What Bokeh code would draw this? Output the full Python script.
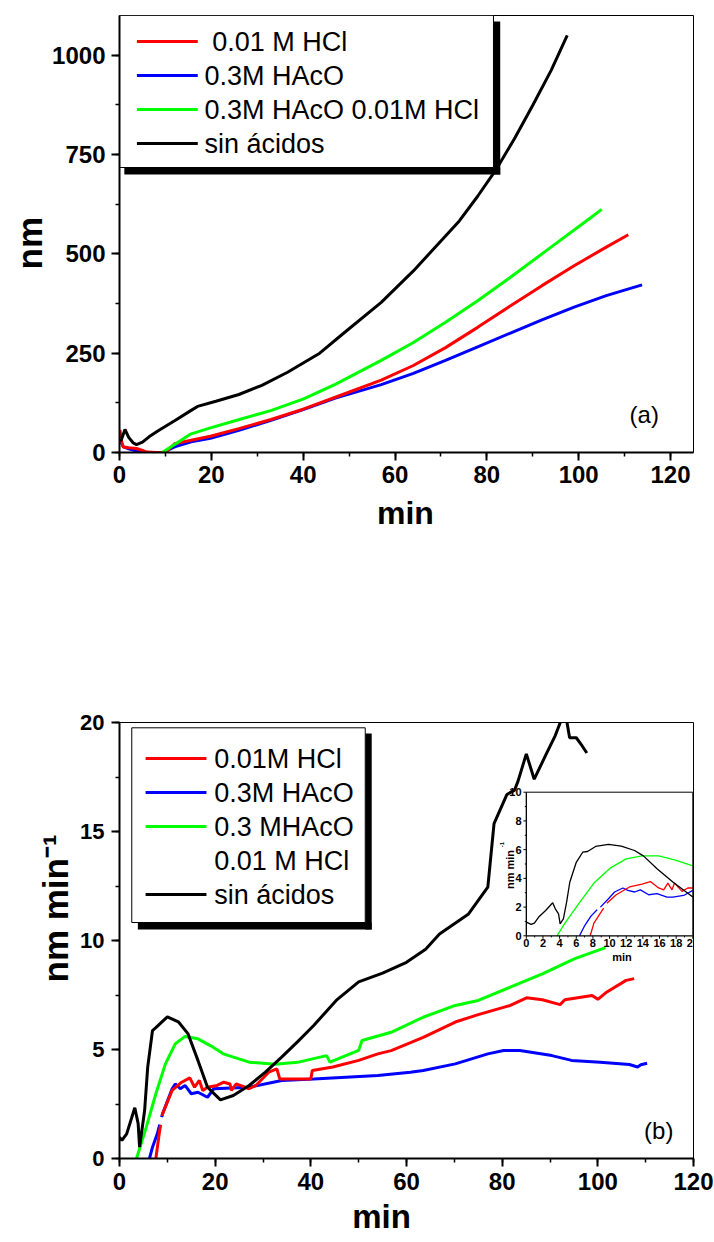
import math
from bokeh.plotting import figure
from bokeh.models import Range1d, SingleIntervalTicker, Title
from bokeh.layouts import column
from bokeh.embed import file_html
from bokeh.resources import INLINE
from bokeh.core.properties import value

nan = float("nan")

# ---------------- data: panel (a) ----------------
a_red_x = [0.1, 0.4, 0.8, 2.0, 3.7, 5.0, 6.0, 8.0, 10.0, 12.0, 15.6, 19.8, 26.0, 33.0, 40.0, 47.0, 57.0, 64.0, 71.0, 78.0, 85.0, 92.0, 99.0, 106.0, 110.8]
a_red_y = [57, 30, 14, 12, 10, 5, 1, 0, 0, 22, 31, 41, 60, 83, 109, 139, 182, 219, 264, 315, 368, 420, 470, 517, 548]
a_blue_x = [0.1, 0.4, 0.8, 2.0, 2.9, 4.0, 5.0, 8.0, 9.5, 12.0, 15.6, 19.8, 26.0, 33.0, 40.0, 47.0, 57.0, 64.0, 71.0, 78.0, 85.0, 92.0, 99.0, 106.0, 113.8]
a_blue_y = [45, 25, 15, 9, 6, 3, 0, 0, 0, 14, 27, 36, 56, 81, 108, 137, 171, 199, 232, 266, 300, 334, 366, 395, 422]
a_green_x = [9.3, 12.0, 15.6, 19.8, 26.1, 33.1, 40.1, 47.1, 57.0, 64.0, 71.0, 78.0, 85.0, 93.4, 102.6, 105.0]
a_green_y = [0, 20, 47, 62, 83, 106, 135, 172, 232, 277, 328, 382, 440, 512, 591, 612]
a_black_x = [0.2, 0.5, 1.2, 2.0, 3.0, 3.7, 5.0, 6.5, 8.6, 12.0, 15.6, 17.0, 21.0, 26.0, 31.0, 36.6, 43.6, 49.0, 57.0, 64.0, 71.0, 74.0, 78.0, 82.0, 86.0, 90.0, 94.0, 97.5]
a_black_y = [28, 35, 58, 38, 24, 20, 26, 40, 56, 80, 106, 116, 129, 146, 169, 202, 250, 302, 378, 457, 545, 583, 645, 712, 790, 874, 962, 1050]
legend_a_labels = ["0.01 M HCl", "0.3M HAcO", "0.3M HAcO 0.01M HCl", "sin ácidos"]

# ---------------- data: panel (b) ----------------
b_red_x = [7.6, 8.3, 8.6, nan, 8.9, 9.0, 11.0, 13.0, 14.7, 15.7, 16.7, 17.4, 18.4, 20.4, 21.8, 23.1, 23.4, 24.4, 27.1, 28.5, 31.2, 32.9, 33.5, 39.3, 40.0, 40.3, 44.6, 50.0, 54.0, 56.8, 63.5, 70.2, 75.0, 81.7, 85.1, 88.4, 92.1, 93.1, 98.8, 100.0, 101.9, 105.9, 107.6]
b_red_y = [0, 1.13, 1.55, nan, 1.95, 2.05, 3.12, 3.5, 3.7, 3.27, 3.58, 3.12, 3.27, 3.35, 3.5, 3.42, 3.12, 3.42, 3.2, 3.35, 3.96, 4.11, 3.65, 3.65, 3.65, 4.04, 4.2, 4.5, 4.8, 4.95, 5.56, 6.26, 6.6, 7.02, 7.37, 7.28, 7.06, 7.28, 7.48, 7.3, 7.64, 8.17, 8.25]
b_blue_x = [6.26, 6.9, 7.9, 8.4, nan, 8.8, 9.0, 11.0, 11.65, 12.7, 13.7, 15.0, 16.4, 18.4, 19.7, 27.1, 33.9, 40.6, 47.3, 54.0, 60.8, 63.5, 70.2, 77.0, 80.3, 83.7, 90.4, 94.5, 100.5, 106.6, 108.3, 109.0, 110.3]
b_blue_y = [0, 0.52, 1.13, 1.55, nan, 1.9, 2.05, 3.2, 3.42, 3.2, 3.35, 2.97, 3.04, 2.81, 3.2, 3.27, 3.58, 3.65, 3.73, 3.81, 3.96, 4.04, 4.34, 4.8, 4.95, 4.95, 4.72, 4.5, 4.42, 4.31, 4.2, 4.3, 4.37]
b_green_x = [3.56, 5.6, 7.6, 9.6, 11.65, 13.7, 16.4, 19.0, 21.7, 27.1, 32.5, 37.2, 43.3, 44.0, 50.0, 50.7, 56.8, 63.5, 70.2, 75.0, 81.7, 88.4, 95.2, 101.6]
b_green_y = [0, 1.44, 2.97, 4.34, 5.26, 5.6, 5.49, 5.18, 4.8, 4.42, 4.32, 4.41, 4.72, 4.42, 4.96, 5.41, 5.79, 6.48, 7.02, 7.25, 7.86, 8.47, 9.17, 9.67]
b_black_x = [0.0, 0.5, 1.5, 3.2, 3.9, 4.2, 5.25, 5.9, 6.9, 7.6, 10.0, 12.3, 14.3, 16.4, 18.4, 21.1, 23.8, 27.1, 30.5, 33.9, 37.2, 40.6, 45.3, 50.0, 55.0, 60.0, 64.0, 66.9, 72.9, 77.0, 78.3, 81.0, 82.6, 83.3, 85.05, 86.7, 89.1, 91.1, 92.5, 93.4, 94.1, 95.5, 96.5, 97.7]
b_black_y = [0.98, 0.83, 1.13, 2.33, 1.6, 0.52, 2.2, 4.2, 5.87, 6.0, 6.5, 6.27, 5.73, 4.5, 3.27, 2.69, 2.89, 3.35, 3.96, 4.65, 5.35, 6.1, 7.25, 8.1, 8.5, 9.0, 9.6, 10.3, 11.2, 12.45, 15.36, 16.7, 16.9, 17.3, 18.56, 17.4, 18.5, 19.4, 20.2, 20.2, 19.3, 19.3, 19.0, 18.6]
legend_b_labels = ["0.01M HCl", "0.3M HAcO", "0.3 MHAcO", "0.01 M HCl", "sin ácidos"]

# ---------------- data: inset of (b) ----------------
ins_red_x = [7.67, 8.12, 8.9, 9.28, nan, 9.67, 10.8, 12.4, 13.9, 14.9, 15.9, 16.5, 17.0, 17.5, 17.8, 18.7, 19.4, 20.0]
ins_red_y = [0, 0.88, 1.58, 1.93, nan, 2.27, 2.86, 3.4, 3.6, 3.78, 3.33, 3.2, 3.67, 3.2, 3.67, 3.09, 3.33, 3.33]
ins_blue_x = [6.39, 6.96, 7.74, 8.5, nan, 8.9, 9.87, 10.6, 11.6, 12.2, 13.0, 13.7, 14.7, 15.7, 16.9, 17.6, 18.9, 20.0]
ins_blue_y = [0, 0.65, 1.35, 1.81, nan, 2.0, 2.58, 3.05, 3.33, 3.16, 3.05, 3.2, 2.86, 2.93, 2.7, 2.7, 2.81, 3.16]
ins_green_x = [3.68, 4.64, 6.19, 8.12, 10.06, 12.0, 13.9, 15.9, 17.8, 20.0]
ins_green_y = [0, 0.88, 2.16, 3.67, 4.71, 5.36, 5.57, 5.57, 5.29, 4.87]
ins_black_x = [0.0, 0.58, 0.97, 1.55, 2.32, 3.17, 3.48, 3.87, 4.06, 4.45, 4.84, 5.22, 6.0, 6.77, 7.35, 8.32, 9.87, 11.4, 13.0, 14.1, 15.7, 17.6, 19.2, 20.0]
ins_black_y = [0.95, 0.79, 0.88, 1.35, 1.76, 2.3, 1.88, 1.53, 0.83, 1.18, 2.34, 3.73, 5.12, 5.82, 5.87, 6.22, 6.36, 6.24, 5.94, 5.55, 4.67, 3.74, 3.05, 2.7]
ins_xticks = [0, 2, 4, 6, 8, 10, 12, 14, 16, 18, 20]
ins_xminor = [1, 3, 5, 7, 9, 11, 13, 15, 17, 19]
ins_yticks = [0, 2, 4, 6, 8, 10]
ins_yminor = [1, 3, 5, 7, 9]

RED, BLUE, GREEN, BLACK = "#FF0000", "#0000FF", "#00FF00", "#000000"
FONT = "Liberation Sans"


def style_axes(p, xint, yint, xsize, ysize, xstand, ystand):
    p.grid.visible = False
    p.outline_line_color = "black"
    p.outline_line_width = 1
    p.xaxis.ticker = SingleIntervalTicker(interval=xint, num_minor_ticks=2)
    p.yaxis.ticker = SingleIntervalTicker(interval=yint, num_minor_ticks=2)
    for ax, size, st in ((p.xaxis, xsize, xstand), (p.yaxis, ysize, ystand)):
        ax.axis_line_width = 2
        ax.major_tick_line_width = 2
        ax.minor_tick_line_width = 1.5
        ax.major_tick_in = 0
        ax.major_tick_out = 8
        ax.minor_tick_in = 0
        ax.minor_tick_out = 4
        ax.major_label_text_font = FONT
        ax.major_label_text_font_style = "bold"
        ax.major_label_text_font_size = size
        ax.major_label_text_color = "black"
        ax.major_label_standoff = st


def axis_title(p, text, side, size, offset, standoff):
    t = Title(text=text, align="left", offset=offset, standoff=standoff,
              text_font=FONT, text_font_style="bold", text_font_size=size,
              text_color="black")
    p.add_layout(t, side)


def px_subplot(p, L, R, T, B):
    return p.subplot(x_source=Range1d(L, R), y_source=Range1d(B, T),
                     x_target=p.x_range, y_target=p.y_range)


# ======================= panel (a) =======================
AL, AR, AT, AB = 119, 713, 15, 452
HA = 560
a_xr, a_yr = (0, 125), (0, 1100)
pa = figure(width=714, height=HA, x_range=Range1d(*a_xr), y_range=Range1d(*a_yr),
            output_backend="svg", toolbar_location=None, title=None,
            min_border_left=AL, min_border_right=714 - AR, min_border_top=AT,
            min_border_bottom=HA - AB, background_fill_color="white",
            border_fill_color="white")
style_axes(pa, 20, 250, "24px", "24px", 5, 6)
axis_title(pa, "min", "below", "32px", 257.5, 14)
axis_title(pa, "nm", "left", "35px", AB - 269, 2)

for xs, ys, c in ((a_blue_x, a_blue_y, BLUE), (a_red_x, a_red_y, RED),
                  (a_green_x, a_green_y, GREEN), (a_black_x, a_black_y, BLACK)):
    pa.line(xs, ys, line_color=c, line_width=3)

sa = px_subplot(pa, AL, AR, AT, AB)
# legend (a)
sa.quad(left=[506, 124], right=[513, 513], top=[21, 167], bottom=[174, 174],
        fill_color="black", line_color=None)
sa.quad(left=[118], right=[506], top=[15], bottom=[167], fill_color="white",
        line_color="black", line_width=1)
leg_a_y = [41, 75, 109, 143]
leg_a_c = [RED, BLUE, GREEN, BLACK]
sa.segment(x0=[137] * 4, x1=[200] * 4, y0=leg_a_y, y1=leg_a_y, line_color=leg_a_c, line_width=3)
sa.text(x=[215, 207, 207, 207], y=leg_a_y, text=legend_a_labels, text_font=value(FONT),
        text_font_size="27px", text_baseline="middle", text_align="left", text_color="black")
sa.text(x=[662], y=[414], text=["(a)"], text_font=value(FONT), text_font_size="24px",
        text_baseline="middle", text_align="center", text_color="black")

# ======================= panel (b) =======================
BL, BR, BT, BB = 99, 693, 722, 1158
HB = 1242 - HA
b_xr, b_yr = (0, 120), (0, 20)
pb = figure(width=714, height=HB, x_range=Range1d(*b_xr), y_range=Range1d(*b_yr),
            output_backend="svg", toolbar_location=None, title=None,
            min_border_left=BL, min_border_right=714 - BR, min_border_top=BT - HA,
            min_border_bottom=1242 - BB, background_fill_color="white",
            border_fill_color="white")
style_axes(pb, 20, 5, "24px", "22px", 6, 7)
axis_title(pb, "min", "below", "33px", 232.7, 6)
axis_title(pb, "nm min\u207b\u00b9", "left", "35px", BB - 982, 5)

for xs, ys, c in ((b_blue_x, b_blue_y, BLUE), (b_red_x, b_red_y, RED),
                  (b_green_x, b_green_y, GREEN), (b_black_x, b_black_y, BLACK)):
    pb.line(xs, ys, line_color=c, line_width=3)


def b_data(px, py):
    return ((px - BL) / (BR - BL) * (b_xr[1] - b_xr[0]) + b_xr[0],
            (BB - py) / (BB - BT) * (b_yr[1] - b_yr[0]) + b_yr[0])


sb = px_subplot(pb, BL, BR, BT, BB)
# legend (b)
sb.quad(left=[353.3, 118], right=[360, 360], top=[733, 922], bottom=[929, 929],
        fill_color="black", line_color=None)
sb.quad(left=[111.7], right=[353.3], top=[727.3], bottom=[922], fill_color="white",
        line_color="black", line_width=1)
leg_b_y = [758, 792, 826, 860, 894]
line_rows = [0, 1, 2, 4]
leg_b_c = [RED, BLUE, GREEN, BLACK]
sb.segment(x0=[126] * 4, x1=[189] * 4, y0=[leg_b_y[i] for i in line_rows],
           y1=[leg_b_y[i] for i in line_rows], line_color=leg_b_c, line_width=3)
sb.text(x=[197] * 5, y=leg_b_y, text=legend_b_labels, text_font=value(FONT),
        text_font_size="27px", text_baseline="middle", text_align="left", text_color="black")
sb.text(x=[657], y=[1130], text=["(b)"], text_font=value(FONT), text_font_size="24px",
        text_baseline="middle", text_align="center", text_color="black")

# ---------------- inset ----------------
IL, IR, IT, IB = 520, 692.3, 791.7, 935.3
ix_r, iy_r = (0, 20), (0, 10)
x0, y0 = b_data(IL, IB)
x1, y1 = b_data(IR, IT)
si = pb.subplot(x_source=Range1d(*ix_r), y_source=Range1d(*iy_r),
                x_target=Range1d(x0, x1), y_target=Range1d(y0, y1))
kx = (ix_r[1] - ix_r[0]) / (IR - IL)   # inset units per pixel
ky = (iy_r[1] - iy_r[0]) / (IB - IT)

si.quad(left=[ix_r[0]], right=[ix_r[1]], bottom=[iy_r[0]], top=[iy_r[1]],
        fill_color="white", line_color=None)
for xs, ys, c in ((ins_blue_x, ins_blue_y, BLUE), (ins_red_x, ins_red_y, RED),
                  (ins_green_x, ins_green_y, GREEN), (ins_black_x, ins_black_y, BLACK)):
    si.line(xs, ys, line_color=c, line_width=1.3)

# ticks
si.segment(x0=ins_xticks, x1=ins_xticks, y0=[0] * len(ins_xticks),
           y1=[-3 * ky] * len(ins_xticks), line_color="black", line_width=1)
si.segment(x0=ins_xminor, x1=ins_xminor, y0=[0] * len(ins_xminor),
           y1=[-1.6 * ky] * len(ins_xminor), line_color="black", line_width=1)
si.segment(x0=[0] * len(ins_yticks), x1=[-3 * kx] * len(ins_yticks), y0=ins_yticks,
           y1=ins_yticks, line_color="black", line_width=1)
si.segment(x0=[0] * len(ins_yminor), x1=[-1.6 * kx] * len(ins_yminor), y0=ins_yminor,
           y1=ins_yminor, line_color="black", line_width=1)
si.text(x=ins_xticks, y=[-3.5 * ky] * len(ins_xticks), text=[str(v) for v in ins_xticks],
        text_font=value(FONT), text_font_style="bold", text_font_size="11px",
        text_align="center", text_baseline="top", text_color="black")
si.text(x=[-5 * kx] * len(ins_yticks), y=ins_yticks, text=[str(v) for v in ins_yticks],
        text_font=value(FONT), text_font_style="bold", text_font_size="11px",
        text_align="right", text_baseline="middle", text_color="black")
# frame of the inset
si.segment(x0=[0, 0, 0, 20], x1=[20, 0, 20, 20], y0=[0, 0, 10, 0], y1=[0, 10, 10, 10],
           line_color="black", line_width=[1.3, 1.3, 1, 1])
si.text(x=[(619 - IL) * kx], y=[-(956.5 - IB) * ky], text=["min"], text_font=value(FONT),
        text_font_style="bold", text_font_size="11px", text_align="center",
        text_baseline="alphabetic", text_color="black")
si.text(x=[(503 - IL) * kx], y=[(IB - 869) * ky], text=["nm min"], text_font=value(FONT),
        text_font_style="bold", text_font_size="11px", text_align="center",
        text_baseline="alphabetic", angle=math.pi / 2, text_color="black")
si.text(x=[(495 - IL) * kx], y=[(IB - 844) * ky], text=["-1"], text_font=value(FONT),
        text_font_style="bold", text_font_size="6px", text_align="center",
        text_baseline="alphabetic", angle=math.pi / 2, text_color="black")

layout = column(pa, pb, spacing=0)
open("out.html", "w").write(file_html(layout, INLINE))
